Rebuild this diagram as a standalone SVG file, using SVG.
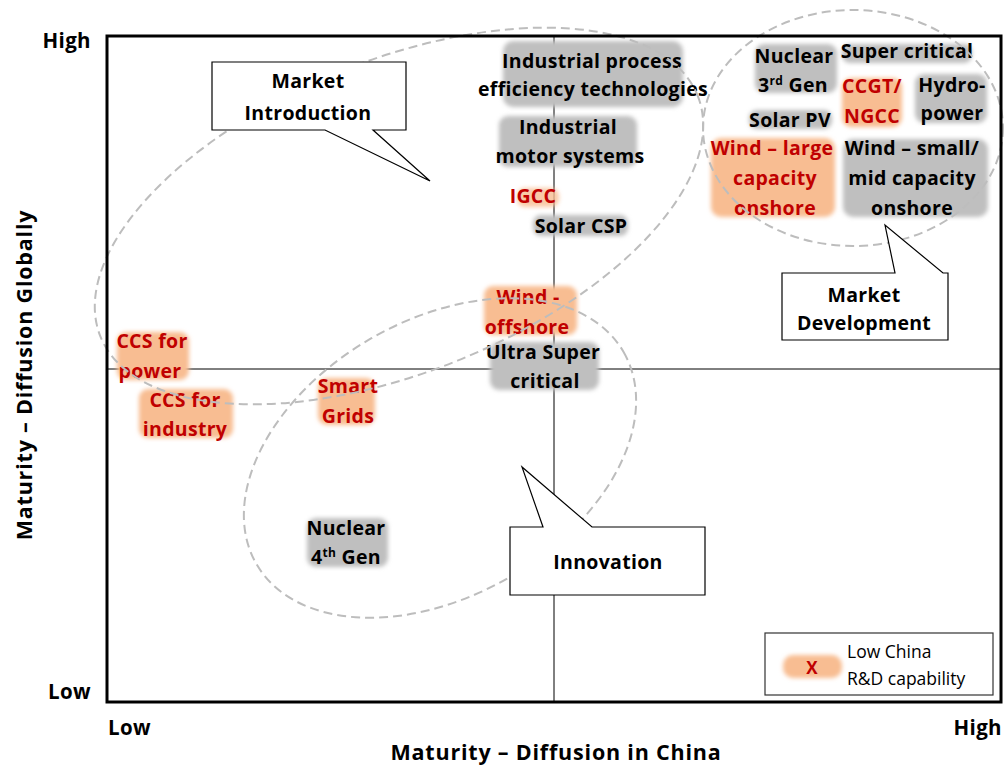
<svg xmlns="http://www.w3.org/2000/svg" width="1008" height="769" viewBox="0 0 1008 769">
  <defs>
    <filter id="soft" x="-20%" y="-30%" width="140%" height="160%">
      <feGaussianBlur stdDeviation="2.2"/>
    </filter>
    <style>
      .lbl { font-family: "Open Sans", "Liberation Sans", sans-serif; font-weight: bold; font-size: 19.5px; letter-spacing: 0.3px; text-anchor: middle; fill: #000; }
      .red { fill: #c00000; }
      .grey { fill: #bfbfbf; filter: url(#soft); }
      .orange { fill: #f8bd92; filter: url(#soft); }
      .zone { fill: none; stroke: #bdbdbd; stroke-width: 2; stroke-dasharray: 9 5; }
      .callout { fill: #fff; stroke: #000; stroke-width: 1.2; }
      .axis { font-family: "Open Sans", "Liberation Sans", sans-serif; font-weight: bold; font-size: 20.5px; letter-spacing: 0.4px; fill: #000; }
      .title { font-size: 21.5px; letter-spacing: 0.8px; text-anchor: middle; }
      .legend { font-family: "Open Sans", "Liberation Sans", sans-serif; font-size: 17.5px; fill: #000; }
      .sup { font-size: 12px; }
    </style>
  </defs>

  <rect width="1008" height="769" fill="#fff"/>

  <!-- quadrant dividers -->
  <g id="dividers" stroke="#000" stroke-width="1">
    <line x1="554" y1="35" x2="554" y2="703"/>
    <line x1="106" y1="369" x2="1002" y2="369"/>
  </g>

  <!-- technology nodes -->
  <g id="n-industrial-process">
    <rect class="grey" x="503" y="41" width="180" height="66" rx="10"/>
    <text class="lbl" x="592" y="68">Industrial process</text>
    <text class="lbl" x="593" y="96">efficiency technologies</text>
  </g>
  <g id="n-industrial-motor">
    <rect class="grey" x="499" y="116" width="138" height="51" rx="9"/>
    <text class="lbl" x="568" y="134">Industrial</text>
    <text class="lbl" x="570" y="163">motor systems</text>
  </g>
  <g id="n-igcc">
    <rect class="orange" x="517" y="188" width="42" height="19" rx="8" opacity="0.8"/>
    <text class="lbl red" x="533" y="203">IGCC</text>
  </g>
  <g id="n-solar-csp">
    <rect class="grey" x="533" y="215" width="95" height="21" rx="8"/>
    <text class="lbl" x="581" y="233">Solar CSP</text>
  </g>
  <g id="n-wind-offshore">
    <rect class="orange" x="484" y="286" width="93" height="49" rx="9"/>
    <text class="lbl red" x="528" y="304">Wind -</text>
    <text class="lbl red" x="527" y="334">offshore</text>
  </g>
  <g id="n-ultra-super">
    <rect class="grey" x="490" y="342" width="109" height="48" rx="9"/>
    <text class="lbl" x="543" y="359">Ultra Super</text>
    <text class="lbl" x="545" y="388">critical</text>
  </g>
  <g id="n-ccs-power">
    <rect class="orange" x="117" y="332" width="72" height="48" rx="9"/>
    <text class="lbl red" x="152" y="348">CCS for</text>
    <text class="lbl red" x="150" y="378">power</text>
  </g>
  <g id="n-ccs-industry">
    <rect class="orange" x="139" y="389" width="94" height="49" rx="9"/>
    <text class="lbl red" x="185" y="407">CCS for</text>
    <text class="lbl red" x="185" y="436">industry</text>
  </g>
  <g id="n-smart-grids">
    <rect class="orange" x="318" y="378" width="57" height="47" rx="9"/>
    <text class="lbl red" x="348" y="393">Smart</text>
    <text class="lbl red" x="348" y="423">Grids</text>
  </g>
  <g id="n-nuclear-4">
    <rect class="grey" x="307" y="518" width="81" height="49" rx="9"/>
    <text class="lbl" x="346" y="535">Nuclear</text>
    <text class="lbl" x="346" y="564">4<tspan class="sup" dy="-7">th</tspan><tspan dy="7"> Gen</tspan></text>
  </g>
  <g id="n-nuclear-3">
    <rect class="grey" x="755" y="44" width="82" height="49" rx="9"/>
    <text class="lbl" x="794" y="63">Nuclear</text>
    <text class="lbl" x="793" y="92">3<tspan class="sup" dy="-7">rd</tspan><tspan dy="7"> Gen</tspan></text>
  </g>
  <g id="n-super-critical">
    <rect class="grey" x="842" y="44" width="130" height="19" rx="8"/>
    <text class="lbl" x="907" y="58">Super critical</text>
  </g>
  <g id="n-ccgt">
    <rect class="orange" x="842" y="78" width="60" height="49" rx="9"/>
    <text class="lbl red" x="872" y="93">CCGT/</text>
    <text class="lbl red" x="872" y="123">NGCC</text>
  </g>
  <g id="n-hydro">
    <rect class="grey" x="915" y="74" width="72" height="49" rx="9"/>
    <text class="lbl" x="952" y="92">Hydro-</text>
    <text class="lbl" x="952" y="120">power</text>
  </g>
  <g id="n-solar-pv">
    <rect class="grey" x="749" y="110" width="83" height="19" rx="8"/>
    <text class="lbl" x="790" y="127">Solar PV</text>
  </g>
  <g id="n-wind-large">
    <rect class="orange" x="711" y="138" width="124" height="79" rx="10"/>
    <text class="lbl red" x="772" y="155">Wind – large</text>
    <text class="lbl red" x="775" y="185">capacity</text>
    <text class="lbl red" x="775" y="215">onshore</text>
  </g>
  <g id="n-wind-small">
    <rect class="grey" x="843" y="139" width="145" height="78" rx="10"/>
    <text class="lbl" x="912" y="155">Wind – small/</text>
    <text class="lbl" x="912" y="185">mid capacity</text>
    <text class="lbl" x="912" y="215">onshore</text>
  </g>

  <!-- dashed market-stage zones -->
  <g id="zones">
    <ellipse class="zone" cx="399" cy="216" rx="322" ry="156" transform="rotate(-22 399 216)"/>
    <ellipse class="zone" cx="853" cy="128" rx="150" ry="118"/>
    <ellipse class="zone" cx="440" cy="458" rx="212" ry="138" transform="rotate(-30 440 458)"/>
  </g>

  <!-- stage callouts -->
  <g id="c-market-introduction">
    <path class="callout" d="M212,62 H406 V130 H373 L430,181 L325,130 H212 Z"/>
    <text class="lbl" x="308" y="88">Market</text>
    <text class="lbl" x="308" y="120">Introduction</text>
  </g>
  <g id="c-market-development">
    <path class="callout" d="M782,273 H895 L885,225 L943,273 H948 V340 H782 Z"/>
    <text class="lbl" x="864" y="302">Market</text>
    <text class="lbl" x="864" y="330">Development</text>
  </g>
  <g id="c-innovation">
    <path class="callout" d="M510,527 H543 L522,467 L592,527 H705 V595 H510 Z"/>
    <text class="lbl" x="608" y="569">Innovation</text>
  </g>

  <!-- legend -->
  <g id="legend">
    <rect x="765" y="633" width="228" height="62" fill="#fff" stroke="#333" stroke-width="1.2"/>
    <rect class="orange" x="783" y="655" width="59" height="23" rx="10"/>
    <text class="lbl red" x="812" y="674" style="font-size:17px">X</text>
    <text class="legend" x="847" y="658">Low China</text>
    <text class="legend" x="847" y="685">R&amp;D capability</text>
  </g>

  <!-- plot frame and axes -->
  <g id="frame">
    <rect x="107" y="36" width="894" height="666" fill="none" stroke="#000" stroke-width="3"/>
    <text class="axis" x="91" y="48" text-anchor="end">High</text>
    <text class="axis" x="91" y="699" text-anchor="end">Low</text>
    <text class="axis" x="108" y="735">Low</text>
    <text class="axis" x="1002" y="735" text-anchor="end">High</text>
    <text class="axis title" x="556" y="760">Maturity – Diffusion in China</text>
    <text class="axis title" transform="translate(32 375) rotate(-90)">Maturity – Diffusion Globally</text>
  </g>
</svg>
